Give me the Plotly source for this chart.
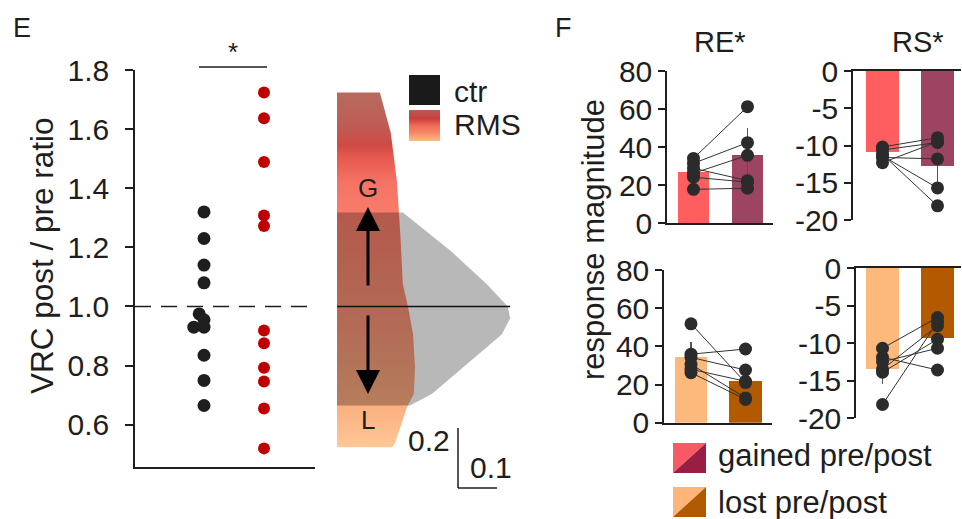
import plotly.graph_objects as go

W, H = 962, 519
def px(x): return x / W
def py(y): return 1 - y / H

FONT = "Liberation Sans, Arial, sans-serif"
INK = "#1e1e1e"

# ---------------- Panel E data ----------------
ctr_ratio = [1.32, 1.23, 1.14, 1.08, 0.975, 0.955, 0.93, 0.93, 0.835, 0.75, 0.665]
ctr_swarm = [0, 0, 0, 0, -0.08, 0, -0.17, 0, 0, 0, 0]
rms_ratio = [1.724, 1.637, 1.489, 1.308, 1.272, 0.919, 0.876, 0.793, 0.746, 0.655, 0.52]
e_ticks = [0.6, 0.8, 1.0, 1.2, 1.4, 1.6, 1.8]
e_ticktext = ["0.6", "0.8", "1.0", "1.2", "1.4", "1.6", "1.8"]

# violin half-profiles (ratio level, density)
rms_vy = [1.724, 1.587, 1.419, 1.251, 1.074, 1.0, 0.906, 0.792, 0.705, 0.658, 0.537, 0.524]
rms_vd = [0.110, 0.138, 0.154, 0.162, 0.169, 0.182, 0.195, 0.200, 0.197, 0.179, 0.149, 0.141]
ctr_vy = [1.318, 1.184, 1.074, 1.0, 0.96, 0.906, 0.792, 0.705, 0.665]
ctr_vd = [0.169, 0.295, 0.385, 0.438, 0.444, 0.423, 0.321, 0.244, 0.187]
rms_grad_y = [0.524, 0.67, 0.9, 1.1, 1.318, 1.42, 1.5, 1.545, 1.6, 1.724]
rms_grad_c = ["#fec796", "#fbae7e", "#f8977a", "#f88a72", "#f87c6a", "#f57364",
              "#e85a50", "#d04a44", "#c05a52", "#b86a60"]

# ---------------- Panel F data ----------------
re_g_bar = [26.8, 35.8]; re_g_err = [2.5, 14]
re_g_pre = [34.0, 31.4, 26.2, 28.8, 24.1, 17.7]
re_g_post = [61.2, 42.3, 35.6, 22.3, 21.5, 18.3]
rs_g_bar = [-10.9, -12.8]; rs_g_err = [0.5, 3.0]
rs_g_pre = [-10.2, -10.6, -11.6, -11.4, -11.2, -12.3]
rs_g_post = [-8.95, -9.6, -11.8, -15.7, -18.1, -9.5]
re_l_bar = [34.3, 22.0]; re_l_err = [8.0, 4.0]
re_l_pre = [51.8, 35.9, 34.2, 30.6, 28.0, 26.2]
re_l_post = [21.0, 38.6, 27.6, 13.0, 21.7, 12.2]
rs_l_bar = [-13.5, -9.3]; rs_l_err = [1.9, 1.0]
rs_l_pre = [-10.7, -11.9, -13.5, -13.9, -12.5, -18.2]
rs_l_post = [-6.6, -13.6, -7.7, -9.5, -10.7, -7.2]
re_ticks = [0, 20, 40, 60, 80]
rs_ticks = [0, -5, -10, -15, -20]
rs_ticktext = ["0", "-5", "-10", "-15", "-20"]

col_gain = ["#fe5e60", "#9c4462"]
col_lost = ["#fdb87c", "#b35900"]
DOT = "#2b2b2b"

fig = go.Figure()

# ---- Panel E dots ----
fig.add_trace(go.Scatter(x=[1 + d for d in ctr_swarm], y=ctr_ratio, mode="markers",
                         marker=dict(size=13, color=INK), xaxis="x", yaxis="y", showlegend=False))
fig.add_trace(go.Scatter(x=[2] * len(rms_ratio), y=rms_ratio, mode="markers",
                         marker=dict(size=12, color="#c00000"), xaxis="x", yaxis="y", showlegend=False))

# ---- Violins (half) ----
lo, hi = min(rms_grad_y), max(rms_grad_y)
cs = [[(v - lo) / (hi - lo), c] for v, c in zip(rms_grad_y, rms_grad_c)]
fig.add_trace(go.Scatter(x=[0] + rms_vd + [0], y=[rms_vy[0]] + rms_vy + [rms_vy[-1]],
                         fill="toself", mode="lines", line=dict(width=0),
                         fillgradient=dict(type="vertical", colorscale=cs),
                         xaxis="x2", yaxis="y", showlegend=False))
fig.add_trace(go.Scatter(x=[0] + ctr_vd + [0], y=[ctr_vy[0]] + ctr_vy + [ctr_vy[-1]],
                         fill="toself", mode="lines", line=dict(width=0),
                         fillcolor="rgba(0,0,0,0.28)", xaxis="x2", yaxis="y", showlegend=False))
fig.add_trace(go.Scatter(x=[0, max(ctr_vd)], y=[1.0, 1.0], mode="lines",
                         line=dict(color="#111", width=1.5), xaxis="x2", yaxis="y", showlegend=False))

# ---- Panel F ----
def fpanel(xa, ya, bars, errs, pre, post, cols):
    fig.add_trace(go.Bar(x=[0, 1], y=bars, marker=dict(color=cols, line=dict(width=0)),
                         width=0.59, error_y=dict(type="data", array=errs, color="#555",
                                                  thickness=1.5, width=0),
                         xaxis=xa, yaxis=ya, showlegend=False))
    lx, ly = [], []
    for a, b in zip(pre, post):
        lx += [0, 1, None]; ly += [a, b, None]
    fig.add_trace(go.Scatter(x=lx, y=ly, mode="lines", line=dict(color="#333", width=1),
                             xaxis=xa, yaxis=ya, showlegend=False))
    fig.add_trace(go.Scatter(x=[0] * len(pre) + [1] * len(post), y=pre + post, mode="markers",
                             marker=dict(size=13, color=DOT), xaxis=xa, yaxis=ya, showlegend=False))

fpanel("x3", "y3", re_g_bar, re_g_err, re_g_pre, re_g_post, col_gain)
fpanel("x4", "y4", rs_g_bar, rs_g_err, rs_g_pre, rs_g_post, col_gain)
fpanel("x5", "y5", re_l_bar, re_l_err, re_l_pre, re_l_post, col_lost)
fpanel("x6", "y6", rs_l_bar, rs_l_err, rs_l_pre, rs_l_post, col_lost)

# ---- legend gradient box (pixel canvas) ----
leg_cs = [[0, "#fdbc84"], [0.25, "#f88a68"], [0.5, "#f06858"], [0.72, "#c8403c"], [1, "#b85a52"]]
fig.add_trace(go.Scatter(x=[409, 440, 440, 409, 409], y=[110, 110, 141, 141, 110], fill="toself",
                         mode="lines", line=dict(width=0),
                         fillgradient=dict(type="vertical", colorscale=leg_cs),
                         xaxis="x7", yaxis="y7", showlegend=False))

def xr(left, right, c0, c1):
    s = c1 - c0
    return [-(c0 - left) / s, (right - c0) / s]

yax = dict(showline=True, linecolor=INK, linewidth=1.5, ticks="outside", ticklen=7,
           tickwidth=1.5, tickcolor=INK, tickfont=dict(size=30, color=INK, family=FONT),
           showgrid=False, zeroline=False, fixedrange=True, automargin=False)
xax = dict(showline=True, linecolor=INK, linewidth=1.5, ticks="", showticklabels=False,
           showgrid=False, zeroline=False, fixedrange=True, automargin=False)

layout = dict(
    width=W, height=H, margin=dict(l=0, r=0, t=0, b=0, autoexpand=False),
    paper_bgcolor="white", plot_bgcolor="rgba(0,0,0,0)",
    font=dict(family=FONT, color=INK), bargap=0,
    xaxis=dict(xax, domain=[px(135), px(315)], range=[-0.15, 2.85], anchor="y"),
    yaxis=dict(yax, domain=[py(467), py(70)], range=[0.457, 1.8], anchor="x",
               tickvals=e_ticks, ticktext=e_ticktext, ticklen=8, ticklabelstandoff=10),
    xaxis2=dict(visible=False, domain=[px(337), px(520)], range=[0, 183 / 390], anchor="y"),
    xaxis3=dict(xax, domain=[px(667), px(773)], range=xr(667, 773, 693.5, 747.5), anchor="y3"),
    yaxis3=dict(yax, domain=[py(223), py(71)], range=[0, 80], tickvals=re_ticks, anchor="x3"),
    xaxis4=dict(xax, domain=[px(853), px(961)], range=xr(853, 961, 882.5, 937.5), anchor="y4", side="top"),
    yaxis4=dict(yax, domain=[py(220), py(71)], range=[-20, 0], tickvals=rs_ticks,
                ticktext=rs_ticktext, anchor="x4"),
    xaxis5=dict(xax, domain=[px(664), px(772)], range=xr(664, 772, 691, 745.5), anchor="y5"),
    yaxis5=dict(yax, domain=[py(422.7), py(270)], range=[0, 80], tickvals=re_ticks, anchor="x5"),
    xaxis6=dict(xax, domain=[px(856), px(961)], range=xr(856, 961, 882.5, 937.5), anchor="y6", side="top"),
    yaxis6=dict(yax, domain=[py(418), py(268)], range=[-20, 0], tickvals=rs_ticks,
                ticktext=rs_ticktext, anchor="x6"),
    xaxis7=dict(visible=False, domain=[0, 1], range=[0, W], anchor="y7", fixedrange=True),
    yaxis7=dict(visible=False, domain=[0, 1], range=[H, 0], anchor="x7", fixedrange=True),
)
fig.update_layout(**layout)

shapes = []
# dashed 1.0 reference line in E
shapes.append(dict(type="line", xref="x domain", yref="y", x0=0, x1=0.99, y0=1.0, y1=1.0,
                   line=dict(color=INK, width=1.5, dash="16px,10px")))
def canvas_line(x0, y0, x1, y1, color=INK, width=1.5):
    shapes.append(dict(type="line", xref="x7", yref="y7", x0=x0, y0=y0, x1=x1, y1=y1,
                       line=dict(color=color, width=width), layer="above"))
canvas_line(199, 67, 267, 67, "#555", 2)           # significance bar
canvas_line(458, 428, 458, 488)                    # scale bar vertical
canvas_line(458, 488, 497, 488)                    # scale bar horizontal
shapes.append(dict(type="rect", xref="x7", yref="y7", x0=409, x1=440, y0=75, y1=105,
                   fillcolor="#1a1a1a", line=dict(width=0)))
def tri(pts, color):
    p = "M " + " L ".join(f"{a},{b}" for a, b in pts) + " Z"
    shapes.append(dict(type="path", xref="x7", yref="y7", path=p, fillcolor=color, line=dict(width=0)))
tri([(673, 443), (706, 443), (673, 473)], "#f65a66")
tri([(706, 443), (706, 473), (673, 473)], "#9a1e44")
tri([(673, 487), (706, 487), (673, 517)], "#fdb57a")
tri([(706, 487), (706, 517), (673, 517)], "#b05a00")
fig.update_layout(shapes=shapes)

ann = []
def text(x, y, s, size=29, xanchor="center", angle=0):
    ann.append(dict(xref="paper", yref="paper", x=px(x), y=py(y), text=s, showarrow=False,
                    xanchor=xanchor, yanchor="middle", textangle=angle,
                    font=dict(size=size, family=FONT, color=INK)))
text(11, 28, "E", 27, "left")
text(553, 28, "F", 27, "left")
text(233, 52, "*", 26)
text(42, 256, "VRC post / pre ratio", 31.5, angle=-90)
text(452, 91, "ctr", 30, "left")
text(452, 125, "RMS", 30, "left")
text(368, 188, "G", 26)
text(368, 420, "L", 26)
text(452, 440, "0.2", 30, "right")
text(468, 467, "0.1", 30, "left")
text(720, 42, "RE*", 29)
text(918, 42, "RS*", 29)
text(593, 240, "response magnitude", 31, angle=-90)
text(716, 455, "gained pre/post", 31, "left")
text(716, 502, "lost pre/post", 31, "left")
# arrows
for (hx, hy, ay) in [(368, 207, 80), (368, 394, -80)]:
    ann.append(dict(xref="paper", yref="paper", x=px(hx), y=py(hy), ax=0, ay=ay, text="",
                    showarrow=True, arrowhead=2, arrowsize=1.6, arrowwidth=3, arrowcolor="#000"))
fig.update_layout(annotations=ann)

fig.write_html("out.html", config={"displayModeBar": False},
               post_script="document.body.style.margin='0px';document.body.style.overflow='hidden';")
